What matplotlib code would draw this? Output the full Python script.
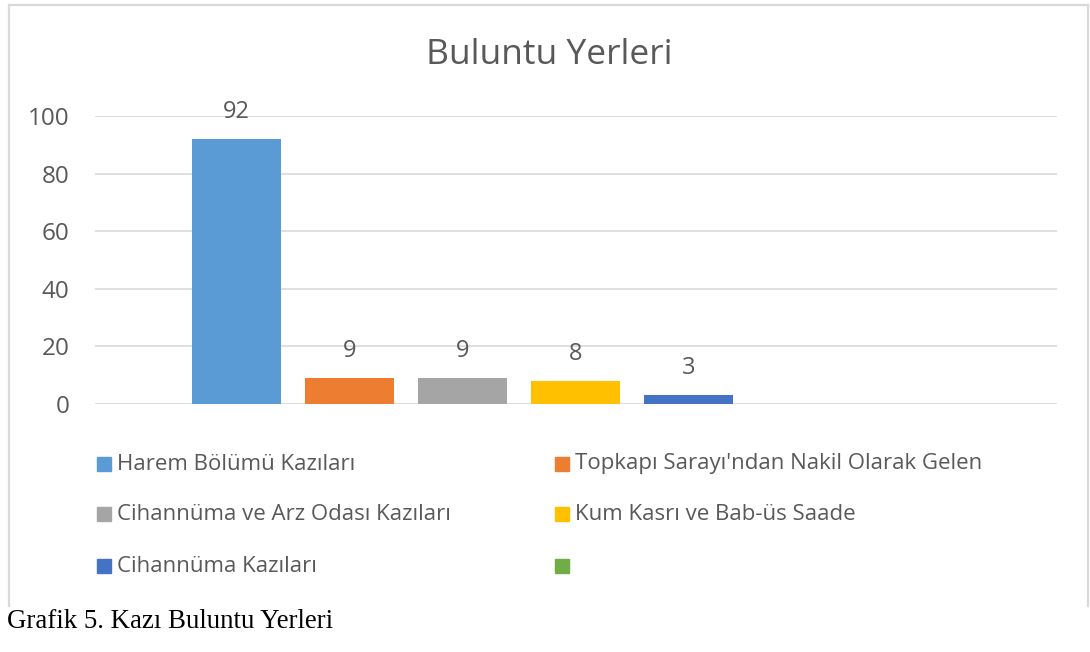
import matplotlib.pyplot as plt
from matplotlib.patches import Rectangle
from matplotlib.lines import Line2D

# data
categories = ["Harem Bölümü Kazıları", "Topkapı Sarayı'ndan Nakil Olarak Gelen",
              "Cihannüma ve Arz Odası Kazıları", "Kum Kasrı ve Bab-üs Saade",
              "Cihannüma Kazıları", ""]
values = [92, 9, 9, 8, 3]
colors = ["#5B9BD5", "#ED7D31", "#A5A5A5", "#FFC000", "#4472C4", "#70AD47"]
yticks = [0, 20, 40, 60, 80, 100]

W, H = 1090, 652
plt.rcParams['font.family'] = ['Open Sans', 'DejaVu Sans']
txt = "#595959"

fig = plt.figure(figsize=(W / 100, H / 100), dpi=100)


def fx(px):
    return px / W


def fy(py):
    return 1 - py / H


# chart frame (left, top, right)
for xs, ys in [([9, 9], [5, 606]), ([9, 1088], [5, 5]), ([1088, 1088], [5, 606])]:
    fig.add_artist(Line2D([fx(x) for x in xs], [fy(y) for y in ys],
                          transform=fig.transFigure, color="#D9D9D9", lw=1.6))

ax = fig.add_axes([fx(95), fy(404), fx(1057) - fx(95), fy(116) - fy(404)])
xs = list(range(len(values)))
ax.bar(xs, values, width=0.788, color=colors[:len(values)], zorder=3)
for x, v in zip(xs, values):
    ax.annotate(str(v), (x, v), xytext=(0, 19.5), textcoords="offset points",
                ha="center", va="center", fontsize=17, color=txt)

ax.set_xlim(-1.252, 7.261)
ax.set_ylim(0, 100)
ax.set_yticks(yticks)
ax.set_yticklabels([str(t) for t in yticks], fontsize=17.5, color=txt)
ax.set_xticks([])
ax.tick_params(axis="y", length=0, pad=18.5)
ax.grid(axis="y", color="#D9D9D9", lw=1.2, zorder=0)
for s in ax.spines.values():
    s.set_visible(False)

fig.text(fx(549), fy(55), "Buluntu Yerleri", ha="center", va="center",
         fontsize=25.5, color=txt)

# legend, two columns
rows = [464, 514, 566]
cols = [97, 555]
for i, (name, c) in enumerate(zip(categories, colors)):
    r, k = divmod(i, 2)
    x0, y0 = cols[k], rows[r]
    fig.add_artist(Rectangle((fx(x0), fy(y0 + 7)), fx(14), 14 / H,
                             transform=fig.transFigure, color=c))
    fig.text(fx(x0 + 20), fy(y0), name, ha="left", va="center",
             fontsize=16, color=txt)

fig.text(fx(7), fy(621), "Grafik 5. Kazı Buluntu Yerleri", ha="left", va="center",
         fontsize=19.4, color="black", family=["Liberation Serif", "DejaVu Serif"])

fig.savefig("out.png", dpi=100)
